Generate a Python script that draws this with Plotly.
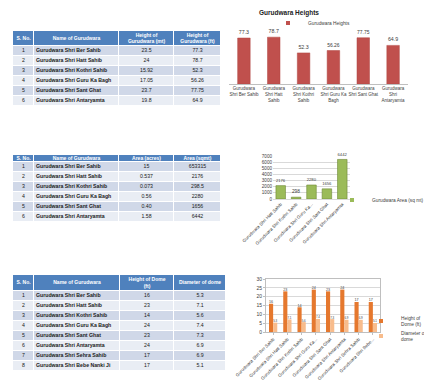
import plotly.graph_objects as go

W, H = 432, 382

# ---------- data ----------
t1_header = ["S. No.", "Name of Gurudwara", "Height of<br>Gurudwara (mt)", "Height of<br>Gurudwara (ft)"]
t1_sno = ["1", "2", "3", "4", "5", "6"]
t1_names = ["Gurudwara Shri Ber Sahib", "Gurudwara Shri Hatt Sahib", "Gurudwara Shri Kothri Sahib",
            "Gurudwara Shri Guru Ka Bagh", "Gurudwara Shri Sant Ghat", "Gurudwara Shri Antaryamta"]
t1_height_m = ["23.5", "24", "15.92", "17.05", "23.7", "19.8"]
t1_height_ft = ["77.3", "78.7", "52.3", "56.26", "77.75", "64.9"]

c1_title = "Gurudwara Heights"
c1_categories = ["Gurudwara<br>Shri Ber Sahib", "Gurudwara<br>Shri Hatt<br>Sahib", "Gurudwara<br>Shri Kothri<br>Sahib",
                 "Gurudwara<br>Shri Guru Ka<br>Bagh", "Gurudwara<br>Shri Sant Ghat", "Gurudwara<br>Shri<br>Antaryamta"]
c1_values = [77.3, 78.7, 52.3, 56.26, 77.75, 64.9]
c1_labels = ["77.3", "78.7", "52.3", "56.26", "77.75", "64.9"]

t2_header = ["S. No.", "Name of Gurudwara", "Area (acres)", "Area (sqmt)"]
t2_area_acres = ["15", "0.537", "0.073", "0.56", "0.40", "1.58"]
t2_area_sqmt = ["653315", "2176", "298.5", "2280", "1656", "6442"]

c2_series = "Gurudwara Area (sq mt)"
c2_categories = ["Gurudwara Shri Hatt Sahib", "Gurudwara Shri Kothri Sahib", "Gurudwara Shri Guru Ka...",
                 "Gurudwara Shri Sant Ghat", "Gurudwara Shri Antaryamta"]
c2_values = [2176, 298.5, 2280, 1656, 6442]
c2_labels = ["2176", "298", "2280", "1656", "6442"]
c2_ticks = [0, 1000, 2000, 3000, 4000, 5000, 6000, 7000]

t3_header = ["S. No.", "Name of Gurudwara", "Height of Dome<br>(ft)", "Diameter of dome"]
t3_sno = ["1", "2", "3", "4", "5", "6", "7", "8"]
t3_names = ["Gurudwara Shri Ber Sahib", "Gurudwara Shri Hatt Sahib", "Gurudwara Shri Kothri Sahib",
            "Gurudwara Shri Guru Ka Bagh", "Gurudwara Shri Sant Ghat", "Gurudwara Shri Antaryamta",
            "Gurudwara Shri Sehra Sahib", "Gurudwara Shri Bebe Nanki Ji"]
t3_dome_h = ["16", "23", "14", "24", "23", "24", "17", "17"]
t3_dome_d = ["5.3", "7.1", "5.6", "7.4", "7.3", "6.9", "6.9", "5.1"]

c3_series = ["Height of Dome (ft)", "Diameter of dome"]
c3_categories = ["Gurudwara Shri Ber Sahib", "Gurudwara Shri Hatt Sahib", "Gurudwara Shri Kothri Sahib",
                 "Gurudwara Shri Guru Ka...", "Gurudwara Shri Sant Ghat", "Gurudwara Shri Antaryamta",
                 "Gurudwara Shri Sehra Sahib", "Gurudwara Shri Bebe..."]
c3_height = [16, 23, 14, 24, 23, 24, 17, 17]
c3_diam = [5.3, 7.1, 5.6, 7.4, 7.3, 6.9, 6.9, 5.1]
c3_ticks = [0, 5, 10, 15, 20, 25, 30]

# ---------- style ----------
FONT = "Liberation Sans"
NARROW = "Liberation Sans Narrow, Arial Narrow, Liberation Sans"
HDR = "#4F81BD"
ROW_A = "#D0D8E8"
ROW_B = "#E9EDF4"
TXT = "#404040"


def px_x(a, b):
    return [a / W, b / W]


def px_y(top, bottom):
    return [1 - bottom / H, 1 - top / H]


fig = go.Figure()
layout_axes = {}


def add_table(idx, header, cols, col_w, xr, yr, head_h, row_h):
    n = len(cols[0])
    xe = [0]
    for w in col_w:
        xe.append(xe[-1] + w)
    ye = [0, head_h]
    for _ in range(n):
        ye.append(ye[-1] + row_h)
    z = [[0] * len(cols)] + [[1 if r % 2 == 0 else 2] * len(cols) for r in range(n)]
    xa, ya = "x%d" % idx, "y%d" % idx
    fig.add_trace(go.Heatmap(x=xe, y=ye, z=z, zmin=0, zmax=2, xgap=1, ygap=1, showscale=False,
                             colorscale=[[0, HDR], [0.33, HDR], [0.34, ROW_A], [0.66, ROW_A],
                                         [0.67, ROW_B], [1, ROW_B]],
                             hoverinfo="skip", xaxis=xa, yaxis=ya, showlegend=False))
    fig.add_trace(go.Scatter(x=[(xe[j] + xe[j + 1]) / 2 for j in range(len(header))],
                             y=[head_h / 2] * len(header), mode="text",
                             text=["<b>%s</b>" % h for h in header], textposition="middle center",
                             textfont=dict(family=FONT, size=5, color="white"),
                             hoverinfo="skip", xaxis=xa, yaxis=ya, showlegend=False, cliponaxis=False))
    yc = [(ye[r + 1] + ye[r + 2]) / 2 for r in range(n)]
    for j, col in enumerate(cols):
        if j == 1:
            xs = [xe[j] + 2] * n
            pos = "middle right"
            txt = ["<b>%s</b>" % s for s in col]
        else:
            xs = [(xe[j] + xe[j + 1]) / 2] * n
            pos = "middle center"
            txt = col
        fig.add_trace(go.Scatter(x=xs, y=yc, mode="text", text=txt, textposition=pos,
                                 textfont=dict(family=FONT, size=5.2, color="#1a1a1a"),
                                 hoverinfo="skip", xaxis=xa, yaxis=ya, showlegend=False, cliponaxis=False))
    layout_axes["xaxis%d" % idx] = dict(domain=px_x(*xr), range=[0, xe[-1]], visible=False,
                                        anchor=ya, fixedrange=True, automargin=False)
    layout_axes["yaxis%d" % idx] = dict(domain=px_y(*yr), range=[ye[-1], 0], visible=False,
                                        anchor=xa, fixedrange=True, automargin=False)


add_table(4, t1_header, [t1_sno, t1_names, t1_height_m, t1_height_ft], [21, 85, 55, 47],
          (5, 213), (23, 98), 15, 10)
add_table(5, t2_header, [t1_sno, t1_names, t2_area_acres, t2_area_sqmt], [21, 85, 55, 47],
          (5, 213), (147, 214), 7, 10)
add_table(6, t3_header, [t3_sno, t3_names, t3_dome_h, t3_dome_d], [21, 86, 54, 52],
          (5, 218), (267, 363), 16, 10)

# ---------- chart 1 ----------
fig.add_trace(go.Bar(x=c1_categories, y=c1_values, text=c1_labels, textposition="outside",
                     textfont=dict(family=FONT, size=5.3, color=TXT), width=0.42,
                     marker=dict(color="#C0504D", line=dict(color="#B04643", width=0.5)),
                     showlegend=False, xaxis="x", yaxis="y", cliponaxis=False, hoverinfo="skip"))
fig.add_trace(go.Scatter(x=[None], y=[None], mode="markers", name=c1_title,
                         marker=dict(symbol="square", size=4, color="#C0504D"),
                         xaxis="x", yaxis="y", legend="legend"))

# ---------- chart 2 ----------
fig.add_trace(go.Bar(x=c2_categories, y=c2_values, text=c2_labels, textposition="outside",
                     textfont=dict(family=FONT, size=4.8, color=TXT), width=0.62,
                     marker=dict(color="#9BBB59", line=dict(color="#6E8A36", width=0.6)),
                     showlegend=False, xaxis="x2", yaxis="y2", cliponaxis=False, hoverinfo="skip"))
fig.add_trace(go.Scatter(x=[None], y=[None], mode="markers", name=c2_series,
                         marker=dict(symbol="square", size=4, color="#9BBB59"),
                         xaxis="x2", yaxis="y2", legend="legend2"))

# ---------- chart 3 ----------
c3_colors = ["#E5782E", "#F8BC8C"]
for vals, nm, col in zip([c3_height, c3_diam], c3_series, c3_colors):
    fig.add_trace(go.Bar(x=c3_categories, y=vals, text=[str(v) for v in vals], textposition="outside",
                         textfont=dict(family=FONT, size=5.3, color=TXT), name=nm,
                         marker=dict(color=col), showlegend=False,
                         xaxis="x3", yaxis="y3", cliponaxis=False, hoverinfo="skip"))
fig.add_trace(go.Scatter(x=[None], y=[None], mode="markers", name="Height of<br>Dome (ft)",
                         marker=dict(symbol="square", size=4, color=c3_colors[0]),
                         xaxis="x3", yaxis="y3", legend="legend3"))
fig.add_trace(go.Scatter(x=[None], y=[None], mode="markers", name="Diameter of<br>dome",
                         marker=dict(symbol="square", size=4, color=c3_colors[1]),
                         xaxis="x3", yaxis="y3", legend="legend4"))

tickf = dict(family=FONT, size=5, color=TXT)
leg = dict(font=dict(family=NARROW, size=4.8, color=TXT), itemwidth=30, bgcolor="rgba(0,0,0,0)",
           yanchor="middle", xanchor="left", itemsizing="trace")

fig.update_layout(
    template="none",
    width=W, height=H, margin=dict(l=0, r=0, t=0, b=0, autoexpand=False),
    paper_bgcolor="white", plot_bgcolor="white",
    showlegend=True, barmode="group", bargap=0.42, bargroupgap=0.0,
    font=dict(family=FONT),
    xaxis=dict(domain=px_x(221, 400), anchor="y", showgrid=False, showline=True, linecolor="#BFBFBF",
               linewidth=1, tickfont=dict(family=NARROW, size=4.5, color=TXT), ticks="", tickangle=0,
               fixedrange=True, automargin=False, zeroline=False),
    yaxis=dict(domain=px_y(16.5, 76), anchor="x", range=[0, 100], visible=False, fixedrange=True,
               automargin=False),
    xaxis2=dict(domain=px_x(265, 342), anchor="y2", showgrid=False, showline=True, linecolor="#D9D9D9",
                tickfont=dict(family=NARROW, size=4.5, color=TXT), tickangle=-45, ticks="",
                fixedrange=True, automargin=False, zeroline=False),
    yaxis2=dict(domain=px_y(148, 191), anchor="x2", range=[0, 7000], tickvals=c2_ticks,
                showgrid=True, gridcolor="#D9D9D9", gridwidth=0.6, tickfont=dict(family=FONT, size=4.6, color=TXT),
                showline=False, zeroline=False, fixedrange=True, automargin=False),
    xaxis3=dict(domain=px_x(258, 372), anchor="y3", showgrid=False, showline=True, linecolor="#BFBFBF",
                mirror=True, tickfont=dict(family=NARROW, size=4.5, color=TXT), tickangle=-45,
                ticks="outside", ticklen=2, tickcolor="#BFBFBF", fixedrange=True, automargin=False,
                zeroline=False),
    yaxis3=dict(domain=px_y(271, 324), anchor="x3", range=[0, 30], tickvals=c3_ticks,
                showgrid=True, gridcolor="#D9D9D9", gridwidth=0.6, tickfont=tickf, showline=True,
                linecolor="#BFBFBF", mirror=True, zeroline=False, ticks="outside", ticklen=2,
                tickcolor="#BFBFBF", fixedrange=True, automargin=False),
    legend=dict(leg, x=260 / W, y=1 - 15 / H),
    legend2=dict(leg, x=324 / W, y=1 - 192 / H),
    legend3=dict(leg, x=353 / W, y=1 - 313 / H),
    legend4=dict(leg, x=353 / W, y=1 - 328 / H),
    annotations=[dict(text="<b>%s</b>" % c1_title, x=313 / W, y=1 - 5 / H, xref="paper", yref="paper",
                      showarrow=False, font=dict(family=FONT, size=6.5, color="#222222"), yanchor="middle")],
    **layout_axes,
)

fig.write_html("out.html", config=dict(displayModeBar=False))
